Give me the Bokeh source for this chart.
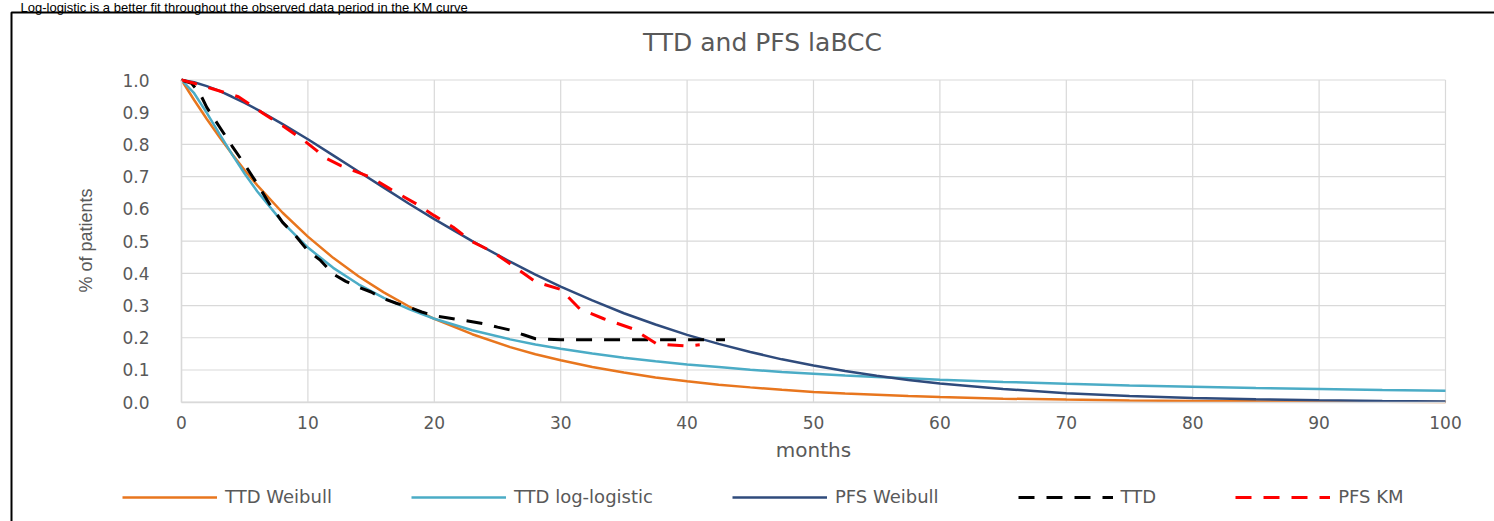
from math import pi
from bokeh.plotting import figure
from bokeh.models import (Range1d, FixedTicker, Legend, LegendItem, Label,
                          BoxAnnotation, NumeralTickFormatter)
from bokeh.embed import file_html
from bokeh.resources import INLINE

# ---------------- data ----------------
months_fit = [0, 1, 2, 3, 4, 5, 6, 8, 10, 12, 14, 16, 18, 20, 23, 26, 28, 30,
              32.5, 35, 37.5, 40, 42.5, 45, 47.5, 50, 52.5, 55, 57.5, 60, 65,
              70, 75, 80, 85, 90, 95, 100]
ttd_weibull = [1.0, 0.938, 0.879, 0.823, 0.770, 0.720, 0.673, 0.588, 0.514,
               0.448, 0.391, 0.341, 0.297, 0.259, 0.211, 0.171, 0.149, 0.130,
               0.109, 0.092, 0.077, 0.065, 0.0543, 0.046, 0.0383, 0.032,
               0.027, 0.023, 0.019, 0.016, 0.011, 0.008, 0.0055, 0.0039,
               0.0027, 0.0019, 0.0013, 0.0009]
ttd_loglogistic = [1.0, 0.959, 0.898, 0.833, 0.769, 0.709, 0.654, 0.558,
                   0.480, 0.417, 0.366, 0.324, 0.289, 0.259, 0.2235, 0.195,
                   0.179, 0.166, 0.151, 0.138, 0.127, 0.117, 0.109, 0.101,
                   0.094, 0.0885, 0.083, 0.078, 0.074, 0.070, 0.063, 0.057,
                   0.052, 0.048, 0.044, 0.041, 0.038, 0.0355]
pfs_weibull = [1.0, 0.993, 0.981, 0.966, 0.948, 0.929, 0.908, 0.863, 0.816,
               0.766, 0.716, 0.666, 0.616, 0.568, 0.500, 0.436, 0.396, 0.359,
               0.316, 0.276, 0.241, 0.209, 0.181, 0.156, 0.133, 0.114, 0.097,
               0.082, 0.069, 0.058, 0.041, 0.028, 0.019, 0.013, 0.0088,
               0.0058, 0.0038, 0.0024]

ttd_km_months = [0, 0.8, 1.5, 2, 3, 4, 5, 6, 7, 8, 9, 10, 11, 12, 13, 14, 15,
                 16, 17, 18, 19, 20, 21, 22, 23, 24, 25, 26, 27, 28, 30, 35,
                 40, 43]
ttd_km = [1.0, 0.99, 0.955, 0.915, 0.855, 0.795, 0.738, 0.677, 0.613, 0.558,
          0.518, 0.47, 0.44, 0.398, 0.375, 0.357, 0.342, 0.321, 0.307, 0.295,
          0.28, 0.268, 0.262, 0.256, 0.25, 0.243, 0.233, 0.224, 0.21, 0.197,
          0.194, 0.194, 0.194, 0.194]

pfs_km_months = [0, 1, 2.5, 4.5, 6.5, 8, 9.7, 10.7, 11.2, 12.6, 15, 16.5,
                 18.6, 20, 21.5, 23, 24.7, 26.2, 28, 30, 31.5, 33.4, 35.7,
                 37.6, 40, 41]
pfs_km = [1.0, 0.99, 0.972, 0.948, 0.895, 0.858, 0.812, 0.781, 0.762, 0.734,
          0.698, 0.662, 0.615, 0.579, 0.543, 0.498, 0.465, 0.424, 0.374, 0.35,
          0.29, 0.259, 0.228, 0.181, 0.174, 0.178]

x_ticks = [0, 10, 20, 30, 40, 50, 60, 70, 80, 90, 100]
y_ticks = [0.0, 0.1, 0.2, 0.3, 0.4, 0.5, 0.6, 0.7, 0.8, 0.9, 1.0]

series_names = ["TTD Weibull", "TTD log-logistic", "PFS Weibull", "TTD", "PFS KM"]
chart_title = "TTD and PFS laBCC"
x_label = "months"
y_label = "% of patients"
headline = "Log-logistic is a better fit throughout the observed data period in the KM curve"

# ---------------- layout (pixels of the picture) ----------------
W, H = 1494, 521
X0_PX, X100_PX = 181.0, 1445.0      # where months 0 and 100 sit
Y1_PX, Y0_PX = 79.5, 401.7          # where 1.0 and 0.0 sit


def dx(px):
    return (px - X0_PX) / (X100_PX - X0_PX) * (x_ticks[-1] - x_ticks[0]) + x_ticks[0]


def dy(py):
    return (Y0_PX - py) / (Y0_PX - Y1_PX) * (y_ticks[-1] - y_ticks[0]) + y_ticks[0]


GRAY_TXT = "#595959"
GRID = "#d9d9d9"
FONT = "DejaVu Sans"

p = figure(width=W, height=H,
           x_range=Range1d(dx(0), dx(W)), y_range=Range1d(dy(H), dy(0)),
           output_backend="svg", toolbar_location=None,
           min_border=0, min_border_left=0, min_border_right=0,
           min_border_top=0, min_border_bottom=0,
           background_fill_color="white", border_fill_color="white")
p.outline_line_color = None
p.xgrid.visible = False
p.ygrid.visible = False

# axes fixed at the data origin, limited to the data area
p.xaxis.fixed_location = y_ticks[0]
p.yaxis.fixed_location = x_ticks[0]
p.xaxis.bounds = (x_ticks[0], x_ticks[-1])
p.yaxis.bounds = (y_ticks[0], y_ticks[-1])
p.xaxis.ticker = FixedTicker(ticks=x_ticks)
p.yaxis.ticker = FixedTicker(ticks=y_ticks)
p.yaxis.formatter = NumeralTickFormatter(format="0.0")
for ax in (p.xaxis, p.yaxis):
    ax.axis_line_color = GRID
    ax.axis_line_width = 1.5
    ax.major_tick_line_color = None
    ax.minor_tick_line_color = None
    ax.major_label_text_color = GRAY_TXT
    ax.major_label_text_font = FONT
    ax.major_label_text_font_size = "17px"
p.xaxis.major_label_standoff = 8
p.yaxis.major_label_standoff = 26

# gridlines over the data area only
p.segment(x0=x_ticks, y0=[y_ticks[0]] * len(x_ticks), x1=x_ticks,
          y1=[y_ticks[-1]] * len(x_ticks), line_color=GRID, line_width=1.2)
p.segment(x0=[x_ticks[0]] * len(y_ticks), y0=y_ticks,
          x1=[x_ticks[-1]] * len(y_ticks), y1=y_ticks,
          line_color=GRID, line_width=1.2)

r1 = p.line(months_fit, ttd_weibull, line_color="#E8761E", line_width=2.5)
r2 = p.line(months_fit, ttd_loglogistic, line_color="#4BACC6", line_width=2.5)
r3 = p.line(months_fit, pfs_weibull, line_color="#2F4B7C", line_width=2.5)
r4 = p.line(ttd_km_months, ttd_km, line_color="black", line_width=3,
            line_dash="16 12")
r5 = p.line(pfs_km_months, pfs_km, line_color="#FF0000", line_width=3,
            line_dash="16 12")

legend = Legend(items=[LegendItem(label=n, renderers=[r])
                       for n, r in zip(series_names, [r1, r2, r3, r4, r5])],
                orientation="horizontal", location=(122, H - 497 - 10),
                glyph_width=95, glyph_height=20, label_standoff=8,
                spacing=79, padding=0, margin=0,
                border_line_color=None, background_fill_alpha=0,
                label_text_font=FONT, label_text_font_size="18px",
                label_text_color=GRAY_TXT)
p.add_layout(legend)

# outer frame of the slide panel
p.add_layout(BoxAnnotation(left=dx(11), right=dx(W + 50), top=dy(12),
                           bottom=dy(H + 50), fill_alpha=0, line_alpha=1,
                           line_color="black", line_width=2))

p.add_layout(Label(x=dx(20), y=dy(-0.5), text=headline, text_align="left",
                   text_baseline="top", text_font="Liberation Sans",
                   text_font_size="13px", text_color="black"))
p.add_layout(Label(x=dx(762), y=dy(42), text=chart_title, text_align="center",
                   text_baseline="middle", text_font=FONT,
                   text_font_size="25px", text_color=GRAY_TXT))
p.add_layout(Label(x=dx(813), y=dy(449), text=x_label, text_align="center",
                   text_baseline="middle", text_font=FONT,
                   text_font_size="20px", text_color=GRAY_TXT))
p.add_layout(Label(x=dx(85), y=dy(240), text=y_label, angle=pi / 2,
                   text_align="center", text_baseline="middle",
                   text_font="Liberation Sans", text_font_size="18px",
                   text_color=GRAY_TXT))

open("out.html", "w").write(file_html(p, INLINE))
